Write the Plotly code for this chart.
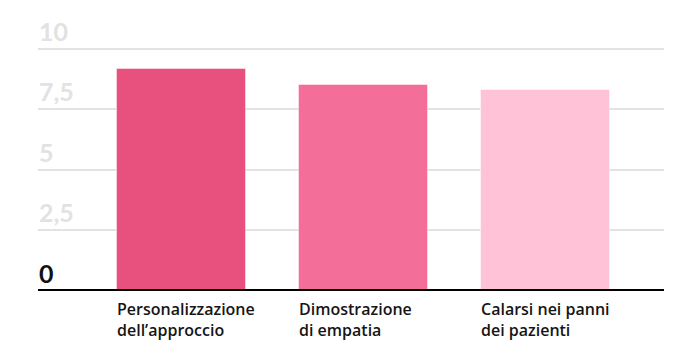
import plotly.graph_objects as go

categories = ["Personalizzazione<br>dell’approccio", "Dimostrazione<br>di empatia", "Calarsi nei panni<br>dei pazienti"]
values = [9.15, 8.5, 8.28]
colors = ["#E8507E", "#F36E98", "#FFC2D7"]
tick_vals = [0, 2.5, 5, 7.5, 10]
tick_text = ["0", "2,5", "5", "7,5", "10"]

bar_width = 0.71
xs = list(range(len(categories)))

fig = go.Figure()
fig.add_trace(go.Bar(
    x=xs, y=values, width=bar_width,
    marker=dict(color=colors, line=dict(color="rgba(255,255,255,0.45)", width=1)),
    hoverinfo="skip",
))

# y tick labels above gridlines
for v, t in zip(tick_vals, tick_text):
    fig.add_annotation(
        xref="paper", x=0, y=v, yref="y", text=t, showarrow=False,
        xanchor="left", yanchor="bottom", yshift=1, xshift=-1,
        font=dict(family="Lato", size=25, color="#111111" if v == 0 else "#E2E2E2", weight="bold"),
    )

# category labels
for i, c in zip(xs, categories):
    fig.add_annotation(
        x=i - bar_width / 2, y=0, xref="x", yref="y", text=c, showarrow=False,
        xanchor="left", yanchor="top", align="left", yshift=-5, xshift=-2,
        font=dict(family="Open Sans", size=16, color="#151515", weight=600),
    )

fig.add_shape(type="line", xref="paper", x0=0, x1=1, yref="y", y0=0, y1=0,
              line=dict(color="#000000", width=4))

fig.update_layout(
    width=674, height=357,
    margin=dict(l=38, r=10, t=39, b=66),
    plot_bgcolor="white", paper_bgcolor="white",
    showlegend=False,
    xaxis=dict(range=[-0.79, 2.652], showticklabels=False, showgrid=False, zeroline=False, fixedrange=True),
    yaxis=dict(range=[0, 10.4], tickvals=[2.5, 5, 7.5, 10], showticklabels=False,
               gridcolor="#E3E3E3", gridwidth=2, zeroline=False, fixedrange=True),
    bargap=0,
)
fig.write_html("out.html", config={"displayModeBar": False},
               post_script="document.body.style.margin='0';")
